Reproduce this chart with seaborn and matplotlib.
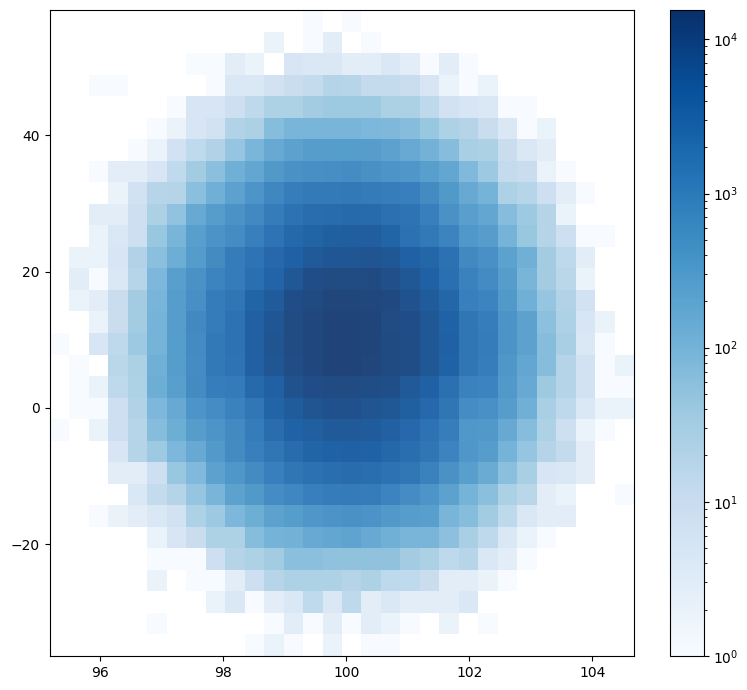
import numpy as np
import matplotlib
matplotlib.use("Agg")
import matplotlib.pyplot as plt
from matplotlib.colors import LogNorm
from matplotlib.cm import ScalarMappable
import seaborn as sns

X_RANGE = (95.177, 104.683)
Y_RANGE = (-36.4, 58.4)

# Bin counts, one list per row from the top of the y range downward.
row_00 = [0,0,0,0,0,0,0,0,0,0,0,0,0,1,0,1,0,0,0,0,0,0,0,0,0,0,0,0,0,0]
row_01 = [0,0,0,0,0,0,0,0,0,0,0,2,0,1,3,0,1,0,0,0,0,0,0,0,0,0,0,0,0,0]
row_02 = [0,0,0,0,0,0,0,1,1,3,2,0,6,5,5,3,3,5,3,1,3,1,0,0,0,0,0,0,0,0]
row_03 = [0,0,1,1,0,0,0,0,1,5,5,8,12,15,24,22,14,14,12,6,2,1,2,0,0,0,0,0,0,0]
row_04 = [0,0,0,0,0,0,1,6,6,10,18,30,30,42,50,50,50,33,33,18,8,6,5,1,1,0,0,0,0,0]
row_05 = [0,0,0,0,0,1,2,6,8,26,33,90,130,130,130,130,115,110,90,55,30,24,12,5,1,2,0,0,0,0]
row_06 = [0,0,0,0,1,2,8,16,26,60,120,230,310,390,410,410,390,310,230,155,90,37,33,12,5,3,0,0,0,0]
row_07 = [0,0,1,3,3,6,16,42,80,170,270,470,630,710,750,790,670,550,520,360,270,105,47,14,12,2,1,0,0,0]
row_08 = [0,0,0,2,8,22,24,80,170,310,550,1000,1400,1650,1650,1700,1600,1400,1300,850,470,230,140,30,22,10,3,1,0,0]
row_09 = [0,0,3,3,10,33,66,230,390,620,950,1500,2300,2900,3000,3200,3100,2500,2200,1300,650,360,270,90,47,24,2,0,0,0]
row_10 = [0,0,2,5,10,55,130,360,600,800,1300,2200,3400,4000,5200,5400,5400,4000,2400,1700,1100,500,400,140,55,24,10,1,1,0]
row_11 = [0,2,2,6,26,80,185,430,850,1500,2200,3500,4800,6500,7500,7800,8000,7000,4700,3800,2400,950,700,330,170,42,18,3,0,0]
row_12 = [0,3,1,5,22,115,360,630,1100,1500,2700,4300,7000,10500,11500,11500,12000,9500,7000,4700,2700,1200,870,400,130,42,20,2,0,0]
row_13 = [0,2,3,12,42,130,390,710,1500,2000,4000,6000,10500,12000,14000,14000,13000,12500,8500,6000,3800,1300,1080,470,170,60,26,8,0,0]
row_14 = [0,0,2,12,42,140,390,920,1500,2300,5000,7800,11500,13500,15000,15500,14500,11500,10500,6800,4600,2000,1400,590,310,75,30,6,2,0]
row_15 = [1,0,6,18,47,140,410,870,1700,2300,5000,8000,11500,13500,15000,15500,14500,12000,11000,7000,4700,2000,1500,590,310,90,37,5,1,0]
row_16 = [0,1,0,20,33,170,410,790,1700,2200,5000,7800,11000,13000,15000,15500,14000,12000,11000,7200,4600,2000,1400,520,270,90,24,8,1,2]
row_17 = [0,1,2,18,30,185,360,830,1400,1600,3300,5000,8500,10500,11500,11500,11000,10000,6300,4700,2600,1200,1100,470,230,50,24,8,1,1]
row_18 = [0,1,1,10,26,115,230,550,800,1200,1900,4000,6000,8000,9000,9000,8000,7000,5300,3500,2000,800,700,390,170,37,18,5,2,2]
row_19 = [1,0,2,10,22,90,185,390,550,900,1500,2900,4600,5300,6300,6300,6000,5000,3500,2300,1400,500,470,230,90,30,10,2,1,0]
row_20 = [0,0,0,6,24,47,115,230,450,850,1300,2000,3000,4000,4500,4800,4500,3600,2800,2000,1100,520,390,140,60,24,15,3,0,0]
row_21 = [0,0,0,3,3,10,55,105,310,520,850,1300,2000,2400,2800,3000,2800,2300,1900,1200,650,360,210,80,37,6,5,3,0,0]
row_22 = [0,0,0,0,5,15,24,60,130,310,470,790,1000,1300,1500,1600,1500,1100,800,550,310,140,80,33,20,3,2,0,0,1]
row_23 = [0,0,1,2,3,5,8,30,47,115,185,310,410,520,590,630,590,470,390,360,130,90,42,18,5,3,3,0,0,0]
row_24 = [0,0,0,0,0,2,6,12,30,30,90,140,155,230,270,290,230,170,130,130,75,37,18,5,2,1,0,0,0,0]
row_25 = [0,0,0,0,0,1,1,1,10,24,30,42,80,80,70,70,70,70,42,33,18,22,5,3,1,0,0,0,0,0]
row_26 = [0,0,0,0,0,2,0,1,1,3,10,22,30,30,30,24,30,18,16,12,3,3,2,1,0,0,0,0,0,0]
row_27 = [0,0,0,0,0,0,0,0,2,5,1,3,5,16,5,18,3,5,3,3,3,5,0,0,0,0,0,0,0,0]
row_28 = [0,0,0,0,0,1,0,0,0,0,0,1,3,1,3,1,3,2,1,0,2,0,1,0,0,0,0,0,0,0]
row_29 = [0,0,0,0,0,0,0,0,0,0,1,2,1,0,2,0,1,1,0,0,0,0,0,0,0,0,0,0,0,0]

counts = np.array([
    row_00, row_01, row_02, row_03, row_04, row_05, row_06, row_07, row_08, row_09,
    row_10, row_11, row_12, row_13, row_14, row_15, row_16, row_17, row_18, row_19,
    row_20, row_21, row_22, row_23, row_24, row_25, row_26, row_27, row_28, row_29,
], dtype=float)

x_ticks = [96, 98, 100, 102, 104]
y_ticks = [-20, 0, 20, 40]

# Bin geometry: rows are listed top-down, so flip the y centres to line up.
n_rows, n_cols = counts.shape
x_edges = np.linspace(*X_RANGE, n_cols + 1)
y_edges = np.linspace(*Y_RANGE, n_rows + 1)
x_centers = (x_edges[:-1] + x_edges[1:]) / 2
y_centers = ((y_edges[:-1] + y_edges[1:]) / 2)[::-1]
grid_x, grid_y = np.meshgrid(x_centers, y_centers)

W, H = 747, 690
fig = plt.figure(figsize=(W / 100, H / 100), dpi=100)
ax = fig.add_axes([49.7 / W, (H - 656) / H, 584.6 / W, 646 / H])
cax = fig.add_axes([670 / W, (H - 656) / H, 33.7 / W, 646 / H])

sns.histplot(
    x=grid_x.ravel(), y=grid_y.ravel(), weights=counts.ravel(),
    bins=[x_edges, y_edges], cmap="Blues", alpha=0.9, ax=ax,
)
norm = LogNorm(vmin=1, vmax=15500)
mesh = ax.collections[0]
mesh.set_norm(norm)

ax.set_xlim(*X_RANGE)
ax.set_ylim(*Y_RANGE)
ax.set_xticks(x_ticks)
ax.set_yticks(y_ticks)
ax.set_xlabel("")
ax.set_ylabel("")
ax.grid(False)

fig.colorbar(ScalarMappable(norm=norm, cmap="Blues"), cax=cax)

fig.savefig("out.png", dpi=100)
